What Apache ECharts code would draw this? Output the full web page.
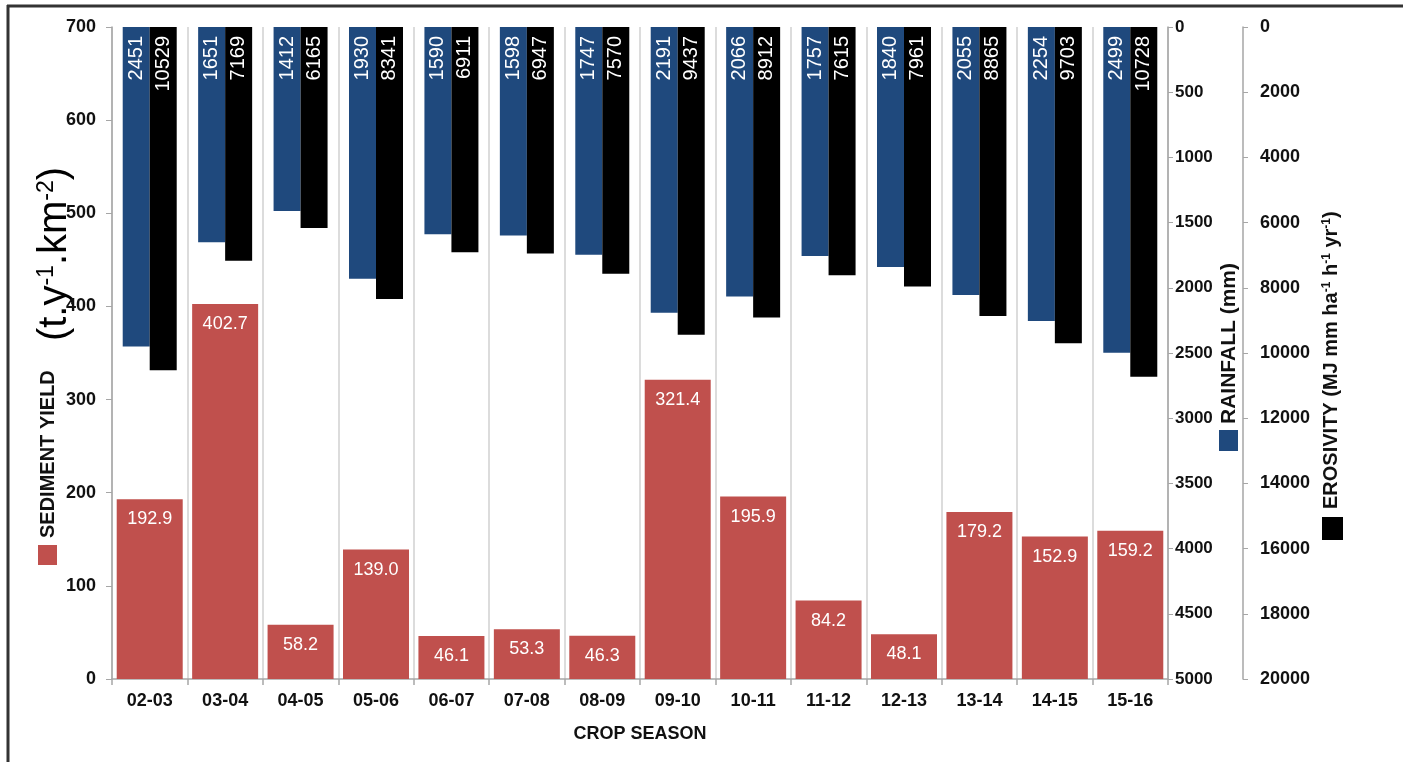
<!DOCTYPE html>
<html lang="en">
<head>
    <meta charset="UTF-8" />
    <title>Sediment yield, rainfall and erosivity</title>
    <script src="https://cdn.jsdelivr.net/npm/echarts@6/dist/echarts.min.js"></script>
    <style>
        html, body { margin: 0; padding: 0; background: #fff; }
    </style>
</head>
<body>
    <div id="main" style="width: 1403px; height: 762px"></div>
    <script type="text/javascript">
        // data
        const seasons = ["02-03", "03-04", "04-05", "05-06", "06-07", "07-08", "08-09",
            "09-10", "10-11", "11-12", "12-13", "13-14", "14-15", "15-16"];
        const sedimentYield = [192.9, 402.7, 58.2, 139.0, 46.1, 53.3, 46.3, 321.4, 195.9, 84.2, 48.1, 179.2, 152.9, 159.2];
        const rainfall = [2451, 1651, 1412, 1930, 1590, 1598, 1747, 2191, 2066, 1757, 1840, 2055, 2254, 2499];
        const erosivity = [10529, 7169, 6165, 8341, 6911, 6947, 7570, 9437, 8912, 7615, 7961, 8865, 9703, 10728];

        const FONT = "'Liberation Sans', Arial, sans-serif";
        const AXIS_GREY = "#a6a6a6";

        let myChart = echarts.init(document.getElementById("main"));

        function rotatedLabel(color) {
            return {
                show: true,
                position: "insideTop",
                distance: 9,
                rotate: 90,
                align: "right",
                verticalAlign: "middle",
                color: color,
                fontFamily: FONT,
                fontSize: 20,
            };
        }

        // plain numbers on the axes, no thousands separator
        const plain = (v) => String(v);

        let options = {
            animation: false,
            grid: { left: 112, right: 235, top: 27, bottom: 83, containLabel: false },
            xAxis: [
                {
                    type: "category",
                    data: seasons,
                    axisLine: { lineStyle: { color: AXIS_GREY, width: 1.5 } },
                    axisTick: { show: true, length: 6, lineStyle: { color: AXIS_GREY, width: 1.5 } },
                    axisLabel: { color: "#111", fontFamily: FONT, fontWeight: "bold", fontSize: 18, margin: 13 },
                    splitLine: { show: true, lineStyle: { color: "#dcdcdc", width: 2 } },
                    name: "CROP SEASON",
                    nameLocation: "middle",
                    nameGap: 46,
                    nameTextStyle: { color: "#111", fontFamily: FONT, fontWeight: "bold", fontSize: 18 },
                },
                { type: "category", data: seasons, show: false },
            ],
            yAxis: [
                {
                    type: "value",
                    position: "left",
                    min: 0, max: 700, interval: 100,
                    axisLine: { show: true, lineStyle: { color: AXIS_GREY, width: 1.5 } },
                    axisTick: { show: true, length: 6, lineStyle: { color: AXIS_GREY } },
                    axisLabel: { color: "#111", fontFamily: FONT, fontWeight: "bold", fontSize: 18, margin: 16, formatter: plain },
                    splitLine: { show: false },
                },
                {
                    type: "value",
                    position: "right",
                    inverse: true,
                    min: 0, max: 5000, interval: 500,
                    axisLine: { show: true, lineStyle: { color: AXIS_GREY, width: 1.5 } },
                    axisTick: { show: true, length: 5, lineStyle: { color: AXIS_GREY } },
                    axisLabel: { color: "#111", fontFamily: FONT, fontWeight: "bold", fontSize: 17, margin: 7, formatter: plain },
                    splitLine: { show: false },
                },
                {
                    type: "value",
                    position: "right",
                    offset: 75,
                    inverse: true,
                    min: 0, max: 20000, interval: 2000,
                    axisLine: { show: true, lineStyle: { color: AXIS_GREY, width: 1.5 } },
                    axisTick: { show: true, length: 5, lineStyle: { color: AXIS_GREY } },
                    axisLabel: { color: "#111", fontFamily: FONT, fontWeight: "bold", fontSize: 18, margin: 17, formatter: plain },
                    splitLine: { show: false },
                },
            ],
            series: [
                {
                    name: "SEDIMENT YIELD",
                    type: "bar",
                    xAxisIndex: 0,
                    yAxisIndex: 0,
                    barWidth: 66,
                    data: sedimentYield,
                    itemStyle: { color: "#C0504D" },
                    label: {
                        show: true,
                        position: "insideTop",
                        distance: 11,
                        color: "#fff",
                        fontFamily: FONT,
                        fontSize: 18,
                        formatter: (p) => p.value.toFixed(1),
                    },
                },
                {
                    name: "RAINFALL (mm)",
                    type: "bar",
                    xAxisIndex: 1,
                    yAxisIndex: 1,
                    barWidth: 27,
                    barGap: "0%",
                    data: rainfall,
                    itemStyle: { color: "#1F497D" },
                    label: rotatedLabel("#fff"),
                },
                {
                    name: "EROSIVITY",
                    type: "bar",
                    xAxisIndex: 1,
                    yAxisIndex: 2,
                    barWidth: 27,
                    barGap: "0%",
                    data: erosivity,
                    itemStyle: { color: "#000" },
                    label: rotatedLabel("#fff"),
                },
            ],
            graphic: [
                // frame lines at top and left
                { type: "line", shape: { x1: 7, y1: 6, x2: 1403, y2: 6 }, style: { stroke: "#333", lineWidth: 3 } },
                { type: "line", shape: { x1: 8, y1: 5, x2: 8, y2: 762 }, style: { stroke: "#333", lineWidth: 3 } },
                // unit title on the left
                {
                    type: "text",
                    x: 55, y: 254,
                    rotation: Math.PI / 2,
                    style: {
                        text: "(t.y{sup|-1}.km{sup|-2})",
                        font: "40px " + FONT,
                        fill: "#000",
                        align: "center",
                        verticalAlign: "middle",
                        rich: { sup: { fontSize: 23, fontFamily: FONT, verticalAlign: "top", fill: "#000" } },
                    },
                },
                // sediment legend
                { type: "rect", shape: { x: 38, y: 545, width: 19, height: 20 }, style: { fill: "#C0504D" } },
                {
                    type: "text", x: 48, y: 538, rotation: Math.PI / 2,
                    style: { text: "SEDIMENT YIELD", font: "bold 20px " + FONT, fill: "#111", align: "left", verticalAlign: "middle" },
                },
                // rainfall legend
                { type: "rect", shape: { x: 1219, y: 430, width: 19, height: 21 }, style: { fill: "#1F497D" } },
                {
                    type: "text", x: 1229, y: 424, rotation: Math.PI / 2,
                    style: { text: "RAINFALL (mm)", font: "bold 21px " + FONT, fill: "#111", align: "left", verticalAlign: "middle" },
                },
                // erosivity legend
                { type: "rect", shape: { x: 1322, y: 517, width: 21, height: 23 }, style: { fill: "#000" } },
                {
                    type: "text", x: 1331, y: 509, rotation: Math.PI / 2,
                    style: {
                        text: "EROSIVITY (MJ mm ha{s|-1} h{s|-1} yr{s|-1})",
                        font: "bold 20px " + FONT,
                        fill: "#111",
                        align: "left",
                        verticalAlign: "middle",
                        rich: { s: { fontSize: 12, fontWeight: "bold", fontFamily: FONT, verticalAlign: "top", fill: "#111" } },
                    },
                },
            ],
        };

        myChart.setOption(options);
    </script>
</body>
</html>
